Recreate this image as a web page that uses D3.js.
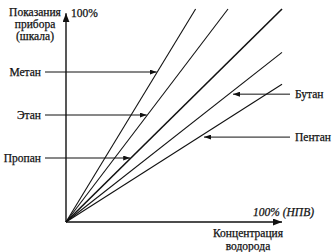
<!DOCTYPE html>
<html><head><meta charset="utf-8">
<script src="https://cdn.jsdelivr.net/npm/d3@7"></script>
<style>body{margin:0;background:#fff}</style>
</head><body><svg id="c" width="333" height="252"></svg>
<script>
// Data: each gas line goes from origin to its end point (concentration %, reading %)
const gases = ["Метан", "Этан", "Пропан", "Бутан", "Пентан"];
const endConc = [60, 75, 100, 100, 100];
const endReading = [100, 100, 100, 80, 65];
const yTitle = ["Показания", "прибора", "(шкала)"];
const xTitle = ["Концентрация", "водорода"];
const yMaxLabel = "100%";
const xMaxLabel = "100% (НПВ)";

const FONT = "'Liberation Serif', 'DejaVu Serif', serif";
const svg = d3.select("#c");
const x = d3.scaleLinear().domain([0, 100]).range([66, 282]);
const y = d3.scaleLinear().domain([0, 100]).range([222, 10]);

const defs = svg.append("defs");
function marker(id, w, h) {
  defs.append("marker").attr("id", id).attr("viewBox", `0 0 ${w} ${h}`)
    .attr("refX", w).attr("refY", h / 2).attr("markerWidth", w).attr("markerHeight", h)
    .attr("markerUnits", "userSpaceOnUse").attr("orient", "auto")
    .append("path").attr("d", `M0,0L${w},${h / 2}L0,${h}Z`).attr("fill", "#111");
}
marker("ax", 9, 7);
marker("lab", 7, 5);

// axes
svg.append("line").attr("x1", x(0)).attr("y1", y(0)).attr("x2", x(0)).attr("y2", y(98.5))
  .attr("stroke", "#111").attr("stroke-width", 1.4).attr("marker-end", "url(#ax)");
svg.append("line").attr("x1", x(0)).attr("y1", y(0)).attr("x2", x(100)).attr("y2", y(0))
  .attr("stroke", "#111").attr("stroke-width", 1.4).attr("marker-end", "url(#ax)");

// gas lines
const lines = gases.map((g, i) => ({ name: g, cx: endConc[i], ry: endReading[i] }));
svg.selectAll(".gas").data(lines).join("line").attr("class", "gas")
  .attr("x1", x(0)).attr("y1", y(0))
  .attr("x2", d => x(d.cx)).attr("y2", d => y(d.ry) - (d.ry === 100 ? 1 : 0))
  .attr("stroke", "#111").attr("stroke-width", (d, i) => i === 2 ? 1.6 : 1.1);

function xAtPy(d, py) {
  const t = (y(0) - py) / (y(0) - y(d.ry));
  return x(0) + t * (x(d.cx) - x(0));
}
function yAtPx(d, px) {
  const t = (px - x(0)) / (x(d.cx) - x(0));
  return y(0) + t * (y(d.ry) - y(0));
}

function txt(xp, yp, s, anchor) {
  return svg.append("text").attr("x", xp).attr("y", yp).attr("text-anchor", anchor || "start")
    .attr("font-family", FONT).attr("font-size", 11.5).attr("fill", "#111")
    .attr("stroke", "#111").attr("stroke-width", 0.25).text(s);
}

const leftRows = [72, 115, 158];
[0, 1, 2].forEach((i, k) => {
  const py = leftRows[k];
  txt(41, py + 4, gases[i], "end");
  svg.append("line").attr("x1", 45).attr("y1", py).attr("x2", xAtPy(lines[i], py) - 1).attr("y2", py)
    .attr("stroke", "#111").attr("stroke-width", 1).attr("marker-end", "url(#lab)");
});
const rightCols = [232, 203];
[3, 4].forEach((i, k) => {
  const px = rightCols[k];
  const py = yAtPx(lines[i], px) + 2.5;
  txt(295, py + 4, gases[i]);
  svg.append("line").attr("x1", 290).attr("y1", py).attr("x2", px + 1).attr("y2", py)
    .attr("stroke", "#111").attr("stroke-width", 1).attr("marker-end", "url(#lab)");
});

yTitle.forEach((s, i) => txt(35, 16 + i * 12, s, "middle"));
txt(71, 17, yMaxLabel);
txt(314, 216, xMaxLabel, "end").attr("font-style", "italic");
xTitle.forEach((s, i) => txt(248, 237 + i * 13, s, "middle"));
</script></body></html>
